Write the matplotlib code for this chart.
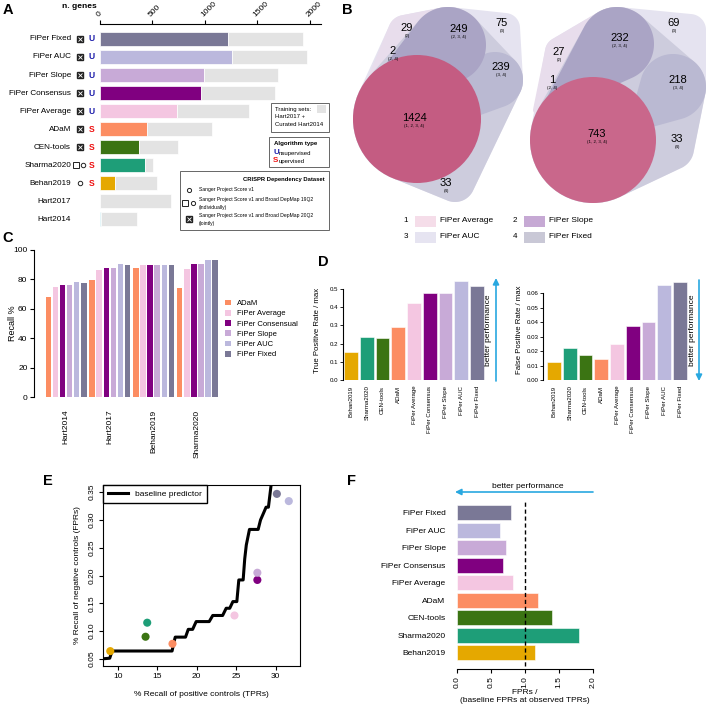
import numpy as np
import matplotlib
matplotlib.use("Agg")
import matplotlib.pyplot as plt
from matplotlib.patches import Polygon, Circle, Rectangle

plt.rcParams['font.family'] = ['Liberation Sans', 'DejaVu Sans']
plt.rcParams['axes.linewidth'] = 0.8

# ---------------- data ----------------
# A: genes predicted (coloured) and training-set genes (grey, stacked after)
methods_a = ['FiPer Fixed', 'FiPer AUC', 'FiPer Slope', 'FiPer Consensus', 'FiPer Average',
             'ADaM', 'CEN-tools', 'Sharma2020', 'Behan2019', 'Hart2017', 'Hart2014']
pred_a = [1218, 1257, 992, 967, 732, 451, 369, 432, 146, 0, 10]
train_a = [722, 721, 704, 703, 687, 618, 378, 77, 395, 675, 340]
algo_a = ['U', 'U', 'U', 'U', 'U', 'S', 'S', 'S', 'S', '', '']
dataset_a = ['joint', 'joint', 'joint', 'joint', 'joint', 'joint', 'joint', 'indiv', 'v1', '', '']
colors_a = ['#7a7896', '#bbb8dd', '#c8aad7', '#800080', '#f4c6e1', '#fc8d62',
            '#3b7413', '#1e9e78', '#e5a800', '#e3e3e3', '#5bc8dc']

# B: Venn region counts
venn_left = [29, 249, 75, 2, 239, 1424, 33]
venn_right = [27, 232, 69, 1, 218, 743, 33]
venn_sets = ['(2)', '(2, 3, 4)', '(3)', '(2, 4)', '(3, 4)', '(1, 2, 3, 4)', '(4)']
venn_names = ['FiPer Average', 'FiPer Slope', 'FiPer AUC', 'FiPer Fixed']

# C: recall % per reference set
sets_c = ['Hart2014', 'Hart2017', 'Behan2019', 'Sharma2020']
methods_c = ['ADaM', 'FiPer Average', 'FiPer Consensual', 'FiPer Slope', 'FiPer AUC', 'FiPer Fixed']
recall_adam = [68, 79.6, 88, 74]
recall_average = [75, 86.4, 89.5, 87]
recall_consensual = [76, 88, 90, 90.7]
recall_slope = [76, 88, 90, 90.7]
recall_auc = [78, 90.5, 90, 93.4]
recall_fixed = [77.7, 90, 90, 93.4]
colors_c = ['#fc8d62', '#f4c6e1', '#800080', '#c8aad7', '#bbb8dd', '#7a7896']

# D/E/F
methods_d = ['Behan2019', 'Sharma2020', 'CEN-tools', 'ADaM', 'FiPer Average',
             'FiPer Consensus', 'FiPer Slope', 'FiPer AUC', 'FiPer Fixed']
colors_d = ['#e5a800', '#1e9e78', '#3b7413', '#fc8d62', '#f4c6e1',
            '#800080', '#c8aad7', '#bbb8dd', '#7a7896']
tpr_d = [0.155, 0.235, 0.229, 0.29, 0.425, 0.476, 0.476, 0.544, 0.518]
fpr_d = [0.0125, 0.0222, 0.0173, 0.0148, 0.025, 0.0376, 0.0404, 0.0658, 0.068]
tpr_e = [9.07, 13.75, 13.54, 16.95, 24.8, 27.7, 27.7, 31.68, 30.17]
fpr_e = [0.0638, 0.115, 0.0897, 0.077, 0.128, 0.192, 0.205, 0.334, 0.347]
base_tpr = [8.15, 9.0, 9.3, 16.9, 17.1, 17.3, 18.6, 18.95, 19.5, 19.95, 21.6, 22.05, 23.3, 23.75,
            24.2, 24.6, 25.1, 25.35, 25.9, 26.1, 26.3, 26.7, 27.8, 28.1, 28.5, 28.8, 29.1, 29.5]
base_fpr = [0.050, 0.051, 0.064, 0.064, 0.078, 0.089, 0.089, 0.103, 0.103, 0.117, 0.117, 0.128,
            0.128, 0.141, 0.141, 0.153, 0.153, 0.192, 0.192, 0.230, 0.255, 0.283, 0.283, 0.300,
            0.313, 0.323, 0.323, 0.37]
ratio_f = [1.157, 1.804, 1.407, 1.2, 0.833, 0.68, 0.73, 0.642, 0.794]

W, H = 709, 706
fig = plt.figure(figsize=(W / 100, H / 100), dpi=100)
BLUE = '#29a8e0'


def box(x0, y0, x1, y1):
    # pixel box (top-left origin) -> figure fraction rect
    return [x0 / W, 1 - y1 / H, (x1 - x0) / W, (y1 - y0) / H]


def r_style(ax, lo, hi, off=3):
    for s in ['top', 'right', 'bottom']:
        ax.spines[s].set_visible(False)
    ax.spines['left'].set_position(('outward', off))
    ax.spines['left'].set_bounds(lo, hi)


# ---------------- A ----------------
axA = fig.add_axes(box(100, 24, 321, 230))
ya = np.arange(len(methods_a))
axA.barh(ya, pred_a, height=0.78, color=colors_a, edgecolor='white', linewidth=0.5)
axA.barh(ya, train_a, left=pred_a, height=0.78, color='#e3e3e3', edgecolor='white', linewidth=0.5)
axA.set_xlim(0, 2109)
axA.set_ylim(10.61, -0.833)
for s in ['right', 'bottom', 'left']:
    axA.spines[s].set_visible(False)
axA.xaxis.tick_top()
axA.set_xticks([0, 500, 1000, 1500, 2000])
axA.tick_params(axis='x', labelsize=6, length=3, width=0.8, pad=1)
for lab in axA.get_xticklabels():
    lab.set_rotation(45)
    lab.set_ha('left')
    lab.set_va('bottom')
    lab.set_rotation_mode('anchor')
axA.set_yticks([])

for i, name in enumerate(methods_a):
    axA.text(-277, i, name, ha='right', va='center', fontsize=5.9, clip_on=False)
    if algo_a[i]:
        axA.text(-76, i, algo_a[i], ha='center', va='center', fontsize=6.2, fontweight='bold',
                 color='#1a1aaa' if algo_a[i] == 'U' else '#ee1111', clip_on=False)
    kind = dataset_a[i]
    if kind == 'joint':
        axA.plot(-191, i, 's', ms=4.8, mfc='#222222', mec='#222222', clip_on=False)
        axA.plot(-191, i, 'x', ms=2.6, mec='white', mew=0.6, clip_on=False)
    elif kind == 'indiv':
        axA.plot(-233, i, 's', ms=4.8, mfc='white', mec='#222222', mew=0.7, clip_on=False)
        axA.plot(-159, i, 'o', ms=3.2, mfc='white', mec='#222222', mew=0.7, clip_on=False)
    elif kind == 'v1':
        axA.plot(-191, i, 'o', ms=3.2, mfc='white', mec='#222222', mew=0.7, clip_on=False)

# ---------------- C ----------------
axC = fig.add_axes(box(40, 250, 222, 397))
xc = np.arange(len(sets_c))
recalls = [recall_adam, recall_average, recall_consensual, recall_slope, recall_auc, recall_fixed]
offs = (np.arange(6) - 2.5) * 0.162
for k, vals in enumerate(recalls):
    axC.bar(xc + offs[k], vals, width=0.125, color=colors_c[k], label=methods_c[k])
axC.set_ylim(0, 100)
axC.set_xlim(-0.594, 3.56)
r_style(axC, 0, 100, 4)
axC.set_yticks(range(0, 101, 20))
axC.set_xticks(xc)
axC.set_xticklabels(sets_c, rotation=90, va='top')
axC.tick_params(axis='x', length=0, pad=9, labelsize=6)
axC.tick_params(axis='y', length=3, pad=2, labelsize=6)
axC.set_ylabel('Recall %', fontsize=6.5)
axC.yaxis.set_label_coords(-0.128, 0.5)
axC.legend(loc='center left', bbox_to_anchor=(221 / W, 1 - 329 / H), bbox_transform=fig.transFigure,
           frameon=False, fontsize=5.5, handlelength=0.8, handleheight=0.8, labelspacing=0.35,
           handletextpad=0.8, borderpad=0)

# ---------------- D ----------------
xd = np.arange(len(methods_d))
axD1 = fig.add_axes(box(344, 280, 486, 380))
axD1.bar(xd, tpr_d, width=0.87, color=colors_d, edgecolor='white', linewidth=0.4)
axD1.set_xlim(-0.45, 8.57)
axD1.set_ylim(0, 0.55)
r_style(axD1, 0, 0.5, 1)
axD1.set_yticks(np.arange(0, 0.51, 0.1))
axD1.set_yticklabels(['0.0', '0.1', '0.2', '0.3', '0.4', '0.5'])
axD1.set_ylabel('True Positive Rate / max', fontsize=5.6)
axD1.yaxis.set_label_coords(-0.165, 0.5)

axD2 = fig.add_axes(box(543, 280, 690, 380))
axD2.bar(xd, fpr_d, width=0.87, color=colors_d, edgecolor='white', linewidth=0.4)
axD2.set_xlim(-0.70, 8.63)
axD2.set_ylim(0, 0.0693)
r_style(axD2, 0, 0.06, 0)
axD2.set_yticks(np.arange(0, 0.061, 0.01))
axD2.set_yticklabels(['%.2f' % v for v in np.arange(0, 0.061, 0.01)])
axD2.set_ylabel('False Positive Rate / max', fontsize=5.6)
axD2.yaxis.set_label_coords(-0.135, 0.5)
for ax in (axD1, axD2):
    ax.set_xticks(xd)
    ax.set_xticklabels(methods_d, rotation=90, va='top')
    ax.tick_params(axis='x', length=0, pad=4, labelsize=4.4)
    ax.tick_params(axis='y', length=2, pad=1, labelsize=4.4, width=0.6)

# ---------------- E ----------------
axE = fig.add_axes(box(103, 485, 300, 666))
axE.plot(base_tpr, base_fpr, color='black', lw=2.2, label='baseline predictor')
axE.scatter(tpr_e, fpr_e, s=34, c=colors_d, zorder=3, linewidths=0)
axE.set_xlim(8.15, 33.1)
axE.set_ylim(0.037, 0.363)
axE.set_xticks([10, 15, 20, 25, 30])
axE.set_yticks(np.arange(0.05, 0.351, 0.05))
axE.set_yticklabels(['%.2f' % v for v in np.arange(0.05, 0.351, 0.05)], rotation=90, va='center')
axE.tick_params(labelsize=6, length=3, pad=2)
axE.set_xlabel('% Recall of positive controls (TPRs)', fontsize=6, labelpad=8)
axE.set_ylabel('% Recall of negative controls (FPRs)', fontsize=6, labelpad=6)
axE.legend(loc='upper left', borderaxespad=0, fancybox=False, edgecolor='black', framealpha=1,
           fontsize=6, handlelength=2.4, borderpad=0.6)

# ---------------- F ----------------
axF = fig.add_axes(box(456.7, 503, 592.7, 662))
yf = np.arange(len(methods_d))
axF.barh(yf, ratio_f, height=0.84, color=colors_d, edgecolor='white', linewidth=0.4)
axF.set_xlim(0, 2)
axF.set_ylim(-0.53, 8.56)
axF.plot([1, 1], [-0.75, 8.75], ls=(0, (3, 2)), color='black', lw=1, clip_on=False)
for s in ['top', 'right', 'left']:
    axF.spines[s].set_visible(False)
axF.spines['bottom'].set_position(('outward', 5))
axF.set_xticks([0, 0.5, 1, 1.5, 2])
axF.set_xticklabels(['0.0', '0.5', '1.0', '1.5', '2.0'], rotation=90)
axF.set_yticks(yf)
axF.set_yticklabels(methods_d)
axF.tick_params(axis='y', length=0, pad=8, labelsize=6)
axF.tick_params(axis='x', length=3, pad=2, labelsize=6)
axF.set_xlabel('FPRs /\n(baseline FPRs at observed TPRs)', fontsize=6, labelpad=1, linespacing=1.1)

# ---------------- overlay (B, legends, letters, arrows) ----------------
ov = fig.add_axes([0, 0, 1, 1])
ov.set_xlim(0, W)
ov.set_ylim(H, 0)
ov.axis('off')
ov.patch.set_visible(False)


def hull(circles, n=120):
    pts = []
    t = np.linspace(0, 2 * np.pi, n, endpoint=False)
    for cx, cy, r in circles:
        pts += list(zip(np.round(cx + r * np.cos(t), 4), np.round(cy + r * np.sin(t), 4)))
    pts = sorted(set(pts))

    def cross(o, a, b):
        return (a[0] - o[0]) * (b[1] - o[1]) - (a[1] - o[1]) * (b[0] - o[0])
    lower, upper = [], []
    for p in pts:
        while len(lower) >= 2 and cross(lower[-2], lower[-1], p) <= 0:
            lower.pop()
        lower.append(p)
    for p in reversed(pts):
        while len(upper) >= 2 and cross(upper[-2], upper[-1], p) <= 0:
            upper.pop()
        upper.append(p)
    return np.array(lower[:-1] + upper[:-1])


def venn(c1, p, r, b, tr, l, pext, rext, s2ext, counts, pos, pink):
    ov.add_patch(Polygon(hull([c1, p, r, b, tr, l]), closed=True, fc='#e5e3f0', ec='none'))
    ov.add_patch(Polygon(hull([l, p, s2ext]), closed=True, fc='#e8ddec', ec='none'))
    ov.add_patch(Polygon(hull([c1, p, r, b]), closed=True, fc='#cdccdd', ec='none'))
    ov.add_patch(Polygon(hull([r, rext]), closed=True, fc='#bab9d2', ec='none'))
    ov.add_patch(Polygon(hull([p, pext]), closed=True, fc='#aaa4c5', ec='none'))
    ov.add_patch(Circle(c1[:2], c1[2], fc=pink, ec='none'))
    for cnt, st, (x, y) in zip(counts, venn_sets, pos):
        ov.text(x, y, str(cnt), ha='center', va='center', fontsize=8)
        ov.text(x, y + 8, st, ha='center', va='center', fontsize=3.2)


venn((417, 119, 64), (448, 45, 38), (495, 80, 28), (455, 182, 20), (505, 28, 15), (405, 32, 17),
     (385, 75, 6), (465, 110, 10), (372, 78, 4), venn_left,
     [(407, 28), (459, 29), (502, 23), (393, 51), (501, 67), (414, 118), (446, 183)], '#c45c82')
venn((593, 140, 63), (617, 44, 37), (673, 87, 33), (672, 148, 22), (690, 30, 16), (560, 52, 15),
     (552, 105, 8), (640, 120, 10), (537, 110, 4), venn_right,
     [(559, 52), (620, 38), (674, 23), (552, 80), (678, 80), (597, 134), (677, 139)], '#c9678b')

# B legend
leg_cols = ['#f5dde9', '#c6a9d4', '#e6e4f1', '#c9c8d6']
for k, name in enumerate(venn_names):
    x0 = 406 + (k % 2) * 109
    y0 = 221 + (k // 2) * 16
    ov.text(x0, y0, str(k + 1), ha='center', va='center', fontsize=5.8)
    ov.add_patch(Rectangle((x0 + 9, y0 - 5.5), 21, 11, fc=leg_cols[k], ec='none'))
    ov.text(x0 + 34, y0, name, ha='left', va='center', fontsize=6)

# A legends
ov.add_patch(Rectangle((271, 103), 58, 29, fc='white', ec='#666666', lw=0.7))
for j, t in enumerate(['Training sets:', 'Hart2017 +', 'Curated Hart2014']):
    ov.text(275, 109 + 8 * j, t, fontsize=4.3, va='center')
ov.add_patch(Rectangle((317, 105), 9, 8, fc='#e3e3e3', ec='none'))

ov.add_patch(Rectangle((269, 137), 60, 30, fc='white', ec='#666666', lw=0.7))
ov.text(274, 143, 'Algorithm type', fontsize=4.4, fontweight='bold', va='center')
ov.text(273, 152.5, 'U', fontsize=5.8, fontweight='bold', color='#1a1aaa', va='center')
ov.text(278.5, 153, 'nsupervised', fontsize=4.3, va='center')
ov.text(273, 160.5, 'S', fontsize=5.8, fontweight='bold', color='#ee1111', va='center')
ov.text(278.5, 161, 'upervised', fontsize=4.3, va='center')

ov.add_patch(Rectangle((180, 171), 149, 59, fc='white', ec='#666666', lw=0.7))
ov.text(284, 180, 'CRISPR Dependency Dataset', fontsize=4.2, fontweight='bold', ha='center', va='center')
ov.plot(189, 190, 'o', ms=3.0, mfc='white', mec='#222222', mew=0.7)
ov.text(199, 190, 'Sanger Project Score v1', fontsize=3.6, va='center')
ov.plot(185, 203, 's', ms=4.5, mfc='white', mec='#222222', mew=0.7)
ov.plot(193, 203, 'o', ms=3.0, mfc='white', mec='#222222', mew=0.7)
ov.text(199, 200, 'Sanger Project Score v1 and Broad DepMap 19Q2', fontsize=3.6, va='center')
ov.text(199, 207, '(individually)', fontsize=3.6, va='center')
ov.plot(189, 219, 's', ms=4.8, mfc='#222222', mec='#222222')
ov.plot(189, 219, 'x', ms=2.6, mec='white', mew=0.6)
ov.text(199, 216, 'Sanger Project Score v1 and Broad DepMap 20Q2', fontsize=3.6, va='center')
ov.text(199, 224, '(jointly)', fontsize=3.6, va='center')
ov.text(97, 7, 'n. genes', fontsize=6, fontweight='bold', ha='right', va='center')

# arrows
arrow = dict(arrowstyle='-|>', color=BLUE, lw=1.2, mutation_scale=9, shrinkA=0, shrinkB=0)
ov.annotate('', xy=(496, 278), xytext=(496, 381), arrowprops=arrow)
ov.text(489, 330, 'better performance', rotation=90, fontsize=6, ha='center', va='center')
ov.annotate('', xy=(699, 381), xytext=(699, 280), arrowprops=arrow)
ov.text(693, 330, 'better performance', rotation=90, fontsize=6, ha='center', va='center')
ov.annotate('', xy=(455, 492), xytext=(593, 492), arrowprops=arrow)
ov.text(528, 486, 'better performance', fontsize=6, ha='center', va='center')

# panel letters
for letter, (x, y) in zip('ABCDEF', [(8, 10), (347, 10), (8, 238), (323, 262), (48, 481), (351, 481)]):
    ov.text(x, y, letter, fontsize=10.5, fontweight='bold', ha='center', va='center')

fig.savefig('out.png', dpi=100)
